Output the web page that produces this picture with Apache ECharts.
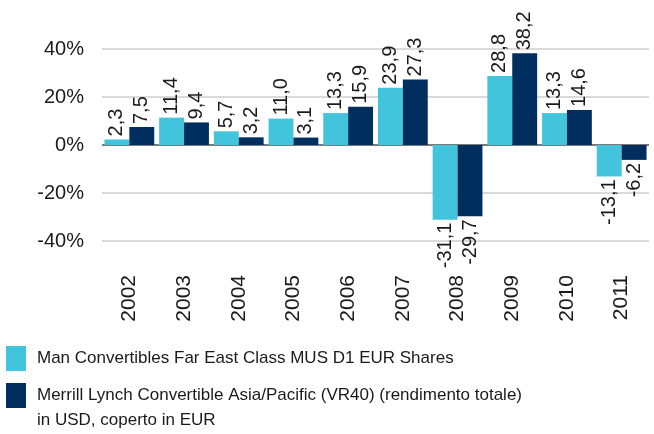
<!DOCTYPE html>
<html>
<head>
<meta charset="utf-8">
<script src="https://cdn.jsdelivr.net/npm/echarts@6/dist/echarts.min.js"></script>
<style>
  html, body { margin: 0; padding: 0; background: #fff; }
  #chart { width: 654px; height: 434px; }
</style>
</head>
<body>
<div id="chart"></div>
<script>
const years = ['2002', '2003', '2004', '2005', '2006', '2007', '2008', '2009', '2010', '2011'];
const fundValues = [2.3, 11.4, 5.7, 11.0, 13.3, 23.9, -31.1, 28.8, 13.3, -13.1];
const indexValues = [7.5, 9.4, 3.2, 3.1, 15.9, 27.3, -29.7, 38.2, 14.6, -6.2];
const yTicks = [-40, -20, 0, 20, 40];

const fundName = 'Man Convertibles Far East Class MUS D1 EUR Shares';
const indexName = 'Merrill Lynch Convertible Asia/Pacific (VR40) (rendimento totale) in USD, coperto in EUR';

const FONT = '"Liberation Sans", Arial, sans-serif';
const fmt = (v) => v.toFixed(1).replace('.', ',');

// positive labels go above the bar, negative ones below; both read bottom-to-top
const withLabels = (values) => values.map((v) => ({
  value: v,
  label: v >= 0
    ? { position: 'top', align: 'left', verticalAlign: 'middle' }
    : { position: 'bottom', align: 'right', verticalAlign: 'middle' }
}));

const barLabel = {
  show: true,
  rotate: 90,
  distance: 3,
  fontFamily: FONT,
  fontSize: 20,
  color: '#1a1a1a',
  formatter: (p) => fmt(p.value)
};

const chart = echarts.init(document.getElementById('chart'), null, { renderer: 'canvas' });

chart.setOption({
  animation: false,
  grid: { left: 102, right: 5, top: 49, bottom: 193, containLabel: false },
  xAxis: {
    type: 'category',
    data: years,
    axisLine: { show: false },
    axisTick: { show: false },
    axisLabel: {
      rotate: 90,
      margin: 34,
      fontFamily: FONT,
      fontSize: 21,
      color: '#1a1a1a'
    }
  },
  yAxis: {
    type: 'value',
    min: yTicks[0],
    max: yTicks[yTicks.length - 1],
    interval: 20,
    axisLine: { show: false },
    axisTick: { show: false },
    axisLabel: {
      margin: 18,
      fontFamily: FONT,
      fontSize: 20,
      color: '#1a1a1a',
      formatter: (v) => v + '%'
    },
    splitLine: {
      lineStyle: {
        width: 2,
        color: ['#dadada', '#dadada', '#7a7a7a', '#dadada', '#dadada']
      }
    }
  },
  legend: [
    {
      orient: 'vertical',
      left: 6,
      top: 346,
      padding: 0,
      icon: 'rect',
      itemWidth: 20,
      itemHeight: 25,
      selectedMode: false,
      data: [fundName],
      textStyle: { fontFamily: FONT, fontSize: 17, color: '#1a1a1a', padding: [0, 0, 0, 6] }
    },
    {
      // empty first line keeps the first text line level with the swatch
      orient: 'vertical',
      left: 6,
      top: 358,
      padding: 0,
      icon: 'rect',
      itemWidth: 20,
      itemHeight: 25,
      selectedMode: false,
      data: [indexName],
      formatter: () => ' \nMerrill Lynch Convertible Asia/Pacific (VR40) (rendimento totale)\nin USD, coperto in EUR',
      textStyle: { fontFamily: FONT, fontSize: 17, lineHeight: 25, color: '#1a1a1a', padding: [0, 0, 0, 6] }
    }
  ],
  series: [
    {
      name: fundName,
      type: 'bar',
      data: withLabels(fundValues),
      itemStyle: { color: '#41c4dc' },
      barGap: '0%',
      barCategoryGap: '9%',
      label: barLabel
    },
    {
      name: indexName,
      type: 'bar',
      data: withLabels(indexValues),
      itemStyle: { color: '#002f5f' },
      label: barLabel
    }
  ]
});
</script>
</body>
</html>
